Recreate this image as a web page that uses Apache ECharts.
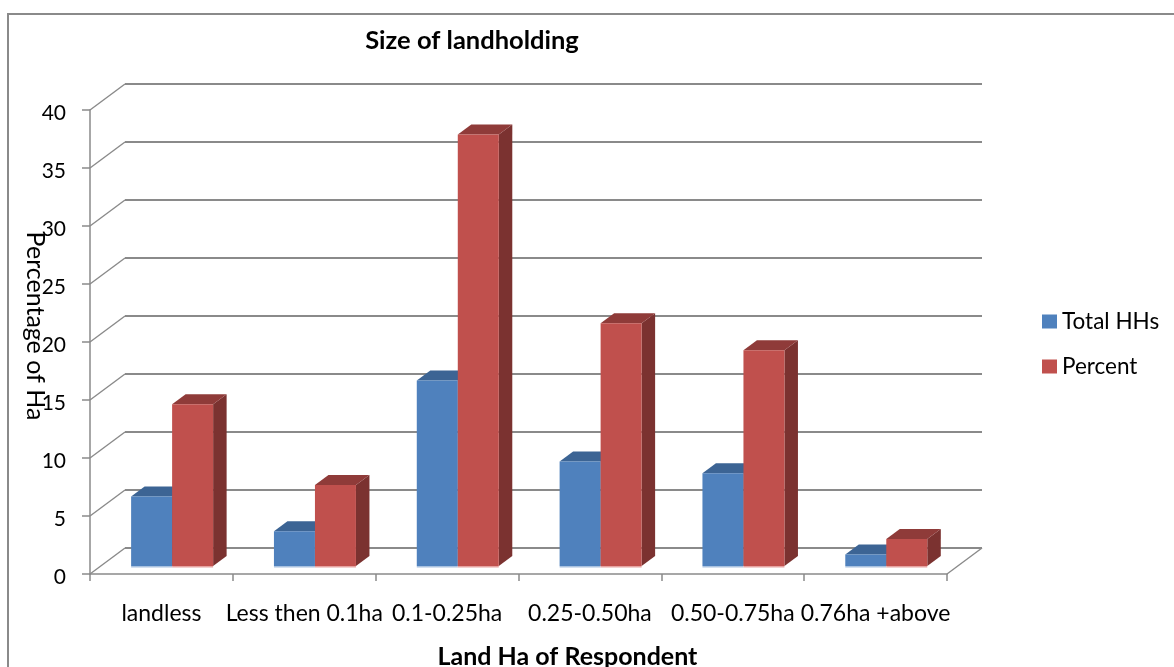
<!DOCTYPE html>
<html><head><meta charset="utf-8">
<style>html,body{margin:0;padding:0;background:#fff}#c{width:1174px;height:667px}</style>
<script src="https://cdn.jsdelivr.net/npm/echarts@6/dist/echarts.min.js"></script>
</head><body><div id="c"></div>
<script>
var categories = ['landless', 'Less then 0.1ha', '0.1-0.25ha', '0.25-0.50ha', '0.50-0.75ha', '0.76ha +above'];
var totalHHs = [6, 3, 16, 9, 8, 1];
var percent = [13.95, 6.98, 37.2, 20.93, 18.6, 2.33];
var valueTicks = [0, 5, 10, 15, 20, 25, 30, 35, 40];

var FONT = 'Lato';
var GREY = '#8a8a8a';
var wallDX = 35, wallDY = -26;   // depth of the chart box
var barDX = 10.7, barDY = -8;    // front plane of the bars inside the box
var depthX = 13.5, depthY = -10; // depth of one bar
var barShare = 41 / 142.83;

function barRenderer(seriesPos, colors) {
  return function (params, api) {
    var cat = api.value(0), val = api.value(1);
    var top = api.coord([cat, val]), base = api.coord([cat, 0]);
    var w = api.size([1, 0])[0] * barShare;
    var x0 = top[0] + barDX + (seriesPos - 1) * w, x1 = x0 + w;
    var yT = top[1] + barDY, yB = base[1] + barDY;
    return {
      type: 'group',
      children: [
        { type: 'polygon', shape: { points: [[x1, yT], [x1 + depthX, yT + depthY], [x1 + depthX, yB + depthY], [x1, yB]] }, style: { fill: colors.side } },
        { type: 'polygon', shape: { points: [[x0, yT], [x0 + depthX, yT + depthY], [x1 + depthX, yT + depthY], [x1, yT]] }, style: { fill: colors.top } },
        { type: 'rect', shape: { x: x0, y: yT, width: w, height: yB - yT }, style: { fill: colors.front } },
        { type: 'rect', shape: { x: x0, y: yB, width: w, height: 1.5 }, style: { fill: colors.edge } }
      ]
    };
  };
}

function wallRenderer(params, api) {
  var p = api.coord([0, api.value(0)]);
  var r = params.coordSys;
  var kids = [{ type: 'line', shape: { x1: r.x, y1: p[1], x2: r.x + wallDX, y2: p[1] + wallDY }, style: { stroke: GREY, lineWidth: 1.4 } }];
  if (api.value(0) === 0) {
    kids.push({ type: 'line', shape: { x1: r.x + r.width, y1: p[1], x2: r.x + r.width + wallDX, y2: p[1] + wallDY }, style: { stroke: GREY, lineWidth: 1.4 } });
  }
  return { type: 'group', children: kids };
}

var chart = echarts.init(document.getElementById('c'), null, { renderer: 'canvas' });
chart.setOption({
  animation: false,
  backgroundColor: '#fff',
  textStyle: { fontFamily: FONT },
  title: [{
    text: 'Size of landholding', left: 467, top: 23, textAlign: 'center',
    textStyle: { fontFamily: FONT, fontSize: 25.5, fontWeight: 'bold', color: '#000' }
  }],
  legend: {
    data: ['Total HHs', 'Percent'], orient: 'vertical', left: 1037, top: 305, itemWidth: 15, itemHeight: 14, itemGap: 22,
    icon: 'rect', textStyle: { fontFamily: FONT, fontSize: 22.5, color: '#000' }, selectedMode: false
  },
  grid: [
    { left: 90, top: 110, width: 857, height: 464, outerBoundsMode: 'none' },
    { left: 125, top: 84, width: 857, height: 464, outerBoundsMode: 'none' }
  ],
  xAxis: [
    {
      type: 'category', data: categories, gridIndex: 0,
      name: 'Land Ha of Respondent', nameLocation: 'middle', nameGap: 70, nameMoveOverlap: false,
      nameTextStyle: { fontFamily: FONT, fontSize: 25, fontWeight: 'bold', color: '#000', padding: [0, 0, 0, 98] },
      axisLine: { lineStyle: { color: GREY, width: 1.5 } },
      axisTick: { show: true, length: 7, lineStyle: { color: GREY, width: 1.5 } },
      axisLabel: { interval: 0, margin: 28, fontFamily: FONT, fontSize: 23, color: '#000' }
    },
    { type: 'category', data: categories, gridIndex: 1, show: false }
  ],
  yAxis: [
    {
      type: 'value', min: 0, max: 40, interval: 5, gridIndex: 0,
      name: 'Percentage of Ha', nameLocation: 'middle', nameRotate: -90, nameGap: 42, nameMoveOverlap: false,
      nameTextStyle: { fontFamily: FONT, fontSize: 25, color: '#000', padding: [0, 32, 0, 0] },
      axisLine: { show: true, lineStyle: { color: GREY, width: 1.5 } },
      axisTick: { show: true, length: 8, lineStyle: { color: GREY, width: 1.5 } },
      axisLabel: { margin: 24, verticalAlign: 'top', lineHeight: 7, fontFamily: FONT, fontSize: 21, color: '#000' },
      splitLine: { show: false }
    },
    {
      type: 'value', min: 0, max: 40, interval: 5, gridIndex: 1,
      axisLine: { show: false }, axisTick: { show: false }, axisLabel: { show: false },
      splitLine: { show: true, lineStyle: { color: GREY, width: 2 } }
    }
  ],
  series: [
    {
      type: 'custom', xAxisIndex: 0, yAxisIndex: 0, clip: false, silent: true, z: 1,
      renderItem: wallRenderer, encode: { y: 0 }, data: valueTicks.map(function (v) { return [v]; })
    },
    {
      name: 'Total HHs', type: 'custom', xAxisIndex: 0, yAxisIndex: 0, clip: false, z: 2,
      itemStyle: { color: '#4f81bd' },
      renderItem: barRenderer(0, { front: '#4f81bd', top: '#3c6494', side: '#2f4f77', edge: '#a9c2e0' }),
      encode: { x: 0, y: 1 }, data: totalHHs.map(function (v, i) { return [i, v]; })
    },
    {
      name: 'Percent', type: 'custom', xAxisIndex: 0, yAxisIndex: 0, clip: false, z: 3,
      itemStyle: { color: '#c0504d' },
      renderItem: barRenderer(1, { front: '#c0504d', top: '#8f3b39', side: '#7b3230', edge: '#e6a3a1' }),
      encode: { x: 0, y: 1 }, data: percent.map(function (v, i) { return [i, v]; })
    }
  ],
  graphic: [{
    type: 'polyline', silent: true,
    shape: { points: [[8, 667], [8, 14], [1174, 14]] },
    style: { fill: 'none', stroke: GREY, lineWidth: 2 }
  }]
});
</script></body></html>
